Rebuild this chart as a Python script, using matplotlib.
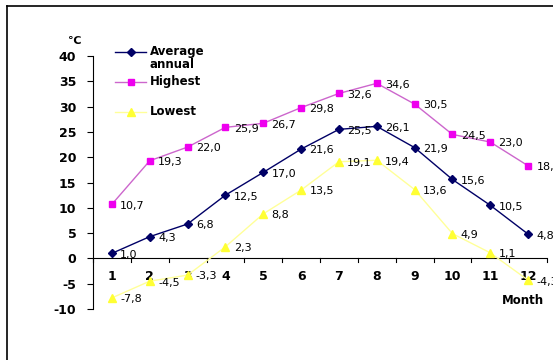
import matplotlib
matplotlib.use("Agg")
import matplotlib.pyplot as plt
from matplotlib.lines import Line2D

months = [1, 2, 3, 4, 5, 6, 7, 8, 9, 10, 11, 12]
average_annual = [1.0, 4.3, 6.8, 12.5, 17.0, 21.6, 25.5, 26.1, 21.9, 15.6, 10.5, 4.8]
highest = [10.7, 19.3, 22.0, 25.9, 26.7, 29.8, 32.6, 34.6, 30.5, 24.5, 23.0, 18.3]
lowest = [-7.8, -4.5, -3.3, 2.3, 8.8, 13.5, 19.1, 19.4, 13.6, 4.9, 1.1, -4.3]
y_ticks = [-10, -5, 0, 5, 10, 15, 20, 25, 30, 35, 40]

plt.rcParams["font.family"] = ["DejaVu Sans", "Noto Sans CJK KR"]

W, H = 553, 360
fig = plt.figure(figsize=(W / 100, H / 100), dpi=100)
fig.patch.set_facecolor("white")


def fx(px):
    return px / W


def fy(py):
    return 1 - py / H


# outer frame: left and top edges
fig.add_artist(Line2D([fx(7), fx(7)], [fy(6), fy(360)], transform=fig.transFigure,
                      color="black", linewidth=1.2))
fig.add_artist(Line2D([fx(7), 1.0], [fy(6), fy(6)], transform=fig.transFigure,
                      color="black", linewidth=1.2))

ax = fig.add_axes([fx(93), fy(309), fx(547) - fx(93), fy(56) - fy(309)])
ax.set_xlim(0.5, 12.5)
ax.set_ylim(-10, 40)
ax.patch.set_alpha(0)

for side in ("top", "right", "bottom"):
    ax.spines[side].set_visible(False)
ax.spines["left"].set_linewidth(0.8)
ax.axhline(0, color="black", linewidth=0.8, zorder=1)

ax.set_yticks(y_ticks)
ax.set_yticklabels([str(v) for v in y_ticks], fontweight="bold", fontsize=9)
ax.tick_params(axis="y", direction="out", length=4, width=0.8, pad=8)
ax.set_xticks([])

# category boundary ticks on the zero line
for b in [m + 0.5 for m in [0] + months]:
    ax.plot([b, b], [0, -0.7], color="black", linewidth=0.8, clip_on=False)
for m in months:
    ax.text(m, -2.2, str(m), ha="center", va="top", fontweight="bold", fontsize=9)

series = [
    ("Average\nannual", average_annual, "#000066", "#000066", "D", 4),
    ("Highest", highest, "#CC66CC", "#EE00EE", "s", 5),
    ("Lowest", lowest, "#FFFF99", "#FFFF33", "^", 6),
]
for label, vals, lc, mc, mk, ms in series:
    ax.plot(months, vals, color=lc, linewidth=1.0, marker=mk, markersize=ms,
            markerfacecolor=mc, markeredgecolor=mc, zorder=3, clip_on=False)
    for m, v in zip(months, vals):
        ax.annotate(f"{v:.1f}".replace(".", ","), (m, v), xytext=(6, -1),
                    textcoords="offset points", ha="left", va="center",
                    fontsize=8, color="black", zorder=4, annotation_clip=False)

# legend entries
legend_rows = [52, 82, 112]
for (label, _, lc, mc, mk, ms), row in zip(series, legend_rows):
    fig.add_artist(Line2D([fx(115), fx(146)], [fy(row), fy(row)],
                          transform=fig.transFigure, color=lc, linewidth=1.0))
    fig.add_artist(Line2D([fx(130.5)], [fy(row)], transform=fig.transFigure,
                          marker=mk, markersize=ms, markerfacecolor=mc,
                          markeredgecolor=mc, linestyle="none"))
    fig.text(fx(150), fy(row - 7), label, ha="left", va="top", fontsize=8.5,
             fontweight="bold", linespacing=0.95)

fig.text(fx(68), fy(41), "℃", ha="left", va="center", fontsize=8,
         fontweight="bold")
fig.text(fx(544), fy(301), "Month", ha="right", va="center",
         fontsize=8.5, fontweight="bold")

fig.savefig("out.png", dpi=100)
